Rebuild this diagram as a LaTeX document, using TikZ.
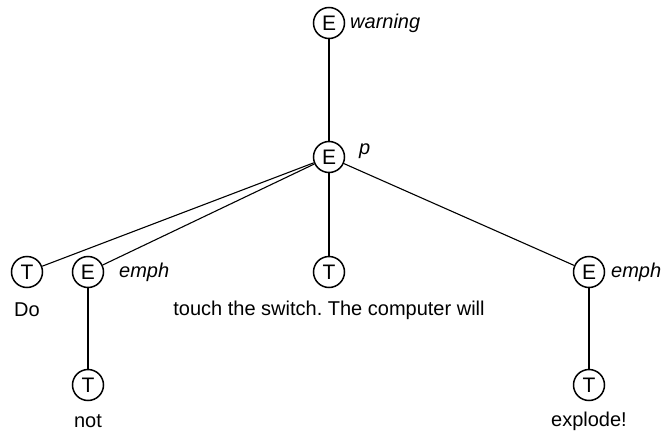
\documentclass[tikz,border=0pt]{standalone}
\usepackage{fontspec}
\setmainfont{Liberation Sans}
\frenchspacing
\begin{document}
\begin{tikzpicture}[x=1pt,y=-1pt,
  nd/.style={circle,draw,line width=1.5pt,minimum size=31pt,inner sep=0pt,font=\fontsize{21}{21}\selectfont},
  lbl/.style={font=\fontsize{20}{20}\selectfont\itshape,anchor=west,inner sep=0pt},
  txt/.style={font=\fontsize{20}{20}\selectfont,inner sep=0pt},
  edge/.style={line width=1.1pt}]
\useasboundingbox (0,0) rectangle (667,431);
\node[nd] (w) at (329,23) {E};
\node[nd] (p) at (329,157) {E};
\node[nd] (do) at (27,272) {T};
\node[nd] (e1) at (88,272) {E};
\node[nd] (tm) at (329,272) {T};
\node[nd] (e2) at (589,272) {E};
\node[nd] (not) at (88,385) {T};
\node[nd] (ex) at (589,385) {T};
\node[lbl] (lw) at (350,23) {warning};
\node[lbl] (lp) at (359,151) {p};
\node[lbl] (le1) at (119,272) {emph};
\node[lbl] (le2) at (611,272) {emph};
\node[txt] (tdo) at (27,310) {Do};
\node[txt] (ttm) at (329,310) {touch the switch. The computer will};
\node[txt] (tnot) at (88,421) {not};
\node[txt] (tex) at (589,421) {explode!};
\draw[edge] (w) -- (p);
\draw[edge] (p) -- (do);
\draw[edge] (p) -- (e1);
\draw[edge] (p) -- (tm);
\draw[edge] (p) -- (e2);
\draw[edge] (e1) -- (not);
\draw[edge] (e2) -- (ex);
\end{tikzpicture}
\end{document}
